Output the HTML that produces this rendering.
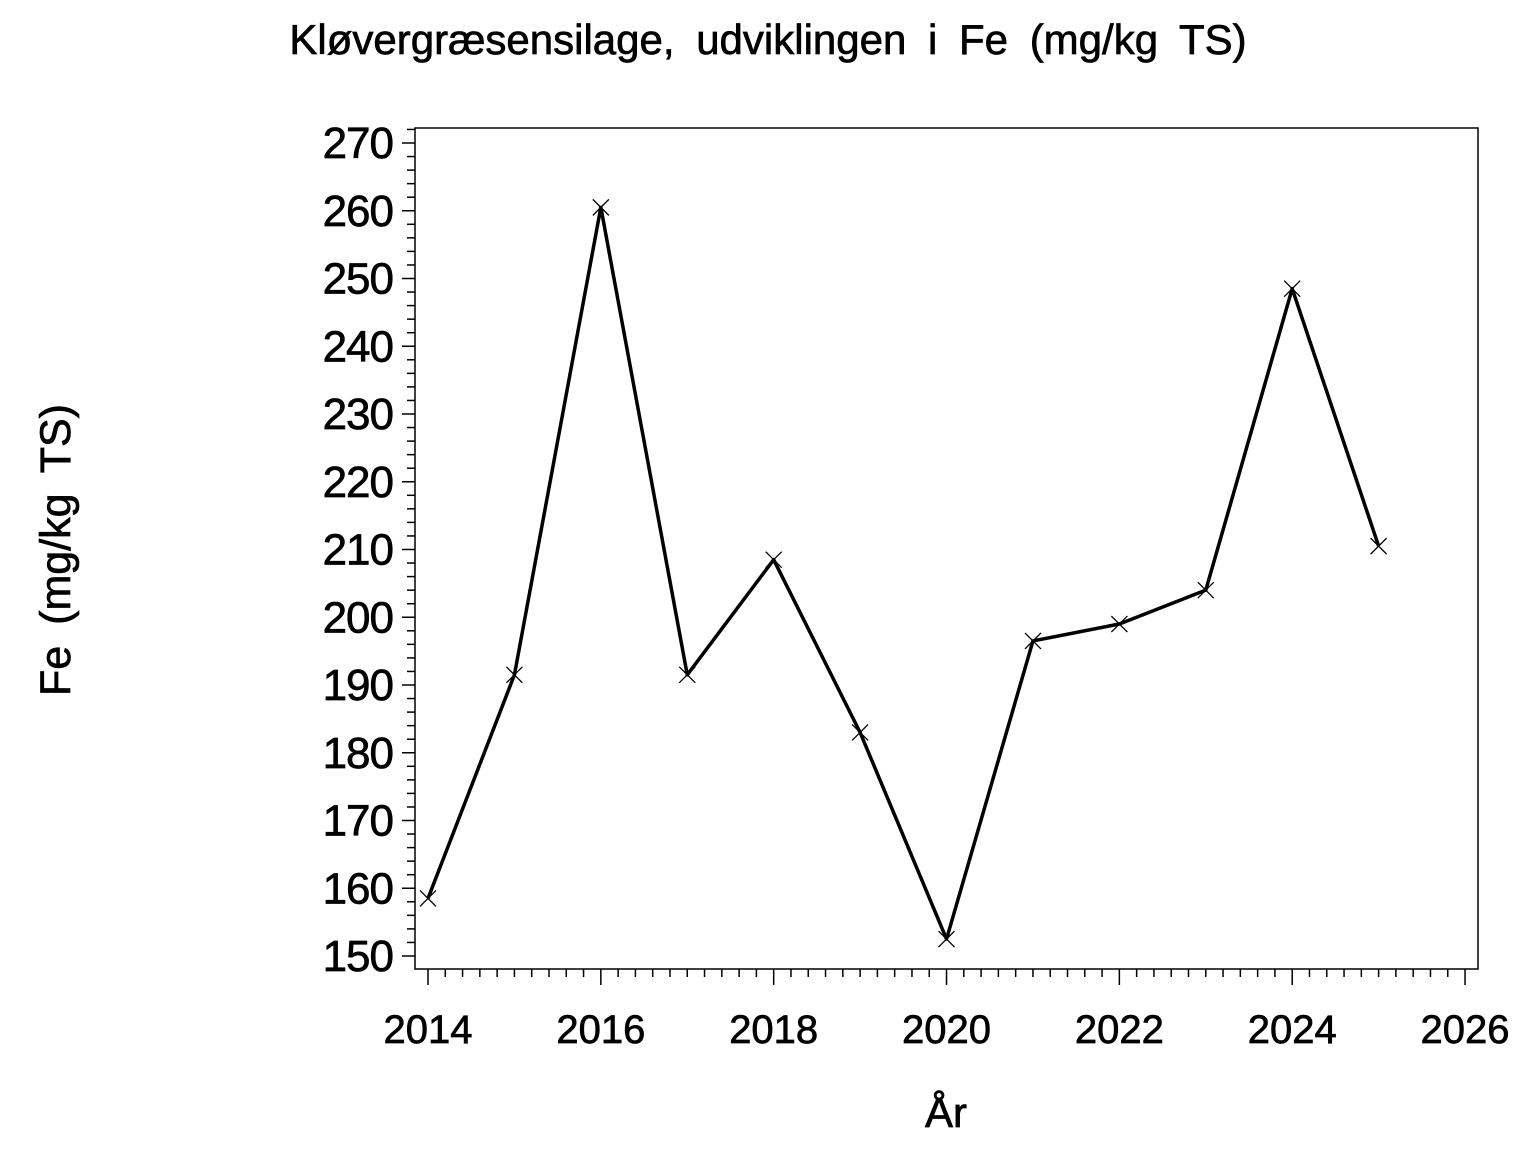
<!DOCTYPE html>
<html><head><meta charset="utf-8"><style>
body{margin:0;background:#fff}
svg{display:block}
text{font-family:"Liberation Sans",sans-serif;fill:#000;stroke:#000;stroke-width:0.7}
</style></head><body>
<svg id="s" width="1536" height="1152" xmlns="http://www.w3.org/2000/svg">
<text x="768" y="54" font-size="42" text-anchor="middle" word-spacing="10">Kløvergræsensilage, udviklingen i Fe (mg/kg TS)</text>
<text x="946" y="1127" font-size="42" text-anchor="middle">År</text>
<text transform="translate(70,550) rotate(-90)" font-size="43" text-anchor="middle" word-spacing="9">Fe (mg/kg TS)</text>
<rect x="415" y="128" width="1063" height="841" fill="none" stroke="#000" stroke-width="1.5"/>
<g id="g"></g>
</svg>
<script>
var g=document.getElementById('g'),h='';
function Y(v){return 956-(v-150)*6.775}
function X(t){return 428+(t-2014)*86.42}
for(var v=150;v<=272;v+=2){var y=Y(v),maj=(v%10==0);
 h+='<line x1="'+(maj?402:407)+'" x2="415" y1="'+y+'" y2="'+y+'" stroke="#000" stroke-width="1.5"/>';
 if(maj&&v<=270)h+='<text x="393" y="'+(y+15)+'" font-size="44" text-anchor="end" letter-spacing="-1">'+v+'</text>';}
for(var i=0;i<=60;i++){var t=2014+i*0.2,x=X(t),maj=(i%10==0);
 h+='<line x1="'+x+'" x2="'+x+'" y1="969" y2="'+(maj?985:977)+'" stroke="#000" stroke-width="1.5"/>';
 if(maj)h+='<text x="'+x+'" y="1043" font-size="40" text-anchor="middle">'+Math.round(t)+'</text>';}
var d=[158.5,191.5,260.5,191.5,208.5,183,152.5,196.5,199,204,248.5,210.5],p='';
for(var i=0;i<12;i++)p+=X(2014+i)+','+Y(d[i])+' ';
h+='<polyline points="'+p+'" fill="none" stroke="#000" stroke-width="3.5" stroke-linejoin="round"/>';
for(var i=0;i<12;i++){var x=X(2014+i),y=Y(d[i]);
 h+='<path d="M'+(x-8)+','+(y-8)+'L'+(x+8)+','+(y+8)+'M'+(x-8)+','+(y+8)+'L'+(x+8)+','+(y-8)+'" stroke="#000" stroke-width="1.3"/>';}
g.innerHTML=h;
</script>
</body></html>
